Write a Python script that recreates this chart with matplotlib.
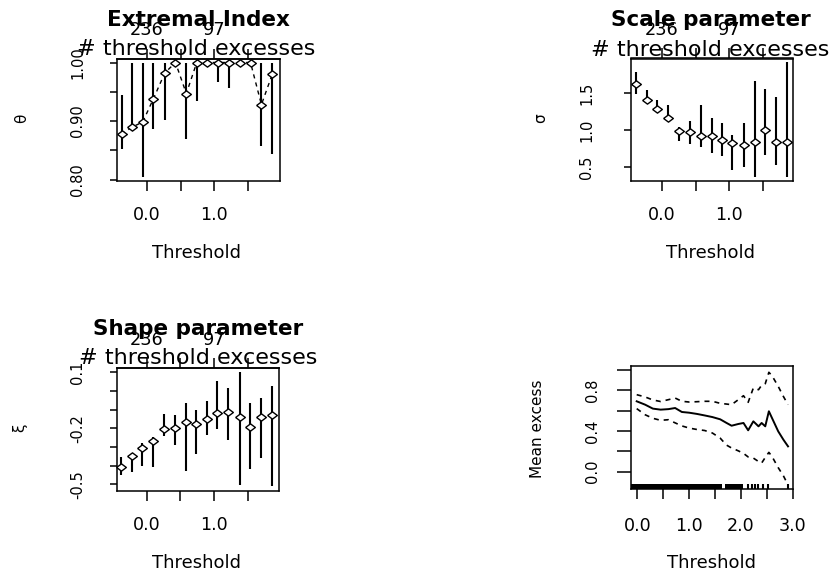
import matplotlib
matplotlib.use("Agg")
import matplotlib.pyplot as plt

# ---------------- data ----------------
thresholds = [-0.378, -0.217, -0.065, 0.095, 0.263, 0.422, 0.583, 0.738,
              0.895, 1.046, 1.212, 1.380, 1.535, 1.697, 1.858]

theta = [0.877, 0.890, 0.898, 0.938, 0.982, 1.000, 0.947, 1.000,
         1.000, 1.000, 1.000, 1.000, 1.000, 0.928, 0.980]
theta_lo = [0.853, 0.887, 0.805, 0.886, 0.902, 1.000, 0.870, 0.934,
            0.994, 0.967, 0.956, 1.000, 1.000, 0.858, 0.843]
theta_hi = [0.944, 1.000, 1.000, 1.000, 1.000, 1.000, 1.000, 1.000,
            1.000, 1.000, 1.000, 1.000, 1.000, 1.000, 1.000]

sigma = [1.620, 1.407, 1.289, 1.167, 0.990, 0.977, 0.923, 0.923,
         0.868, 0.819, 0.796, 0.841, 0.995, 0.837, 0.841]
sigma_lo = [1.484, 1.362, 1.226, 1.136, 0.855, 0.806, 0.773, 0.684,
            0.647, 0.457, 0.494, 0.366, 0.661, 0.525, 0.366]
sigma_hi = [1.791, 1.543, 1.407, 1.339, 1.045, 1.126, 1.339, 1.167,
            1.099, 0.932, 1.099, 1.669, 1.552, 1.444, 1.927]

xi = [-0.409, -0.348, -0.307, -0.266, -0.204, -0.200, -0.168, -0.177,
      -0.150, -0.120, -0.114, -0.138, -0.191, -0.138, -0.129]
xi_lo = [-0.450, -0.432, -0.402, -0.409, -0.241, -0.289, -0.427, -0.339,
         -0.236, -0.204, -0.263, -0.504, -0.420, -0.361, -0.509]
xi_hi = [-0.352, -0.330, -0.277, -0.245, -0.123, -0.129, -0.063, -0.102,
         -0.054, 0.055, 0.014, 0.100, -0.066, -0.039, 0.028]

me_u = [-0.012, 0.15, 0.30, 0.45, 0.60, 0.73, 0.86, 1.00, 1.15, 1.30, 1.45,
        1.60, 1.72, 1.82, 1.95, 2.05, 2.14, 2.24, 2.34, 2.40, 2.47, 2.54,
        2.60, 2.72, 2.82, 2.91]
me_mean = [0.692, 0.659, 0.620, 0.610, 0.615, 0.626, 0.587, 0.580, 0.568,
           0.553, 0.537, 0.515, 0.480, 0.452, 0.469, 0.479, 0.407, 0.495,
           0.446, 0.479, 0.446, 0.594, 0.528, 0.397, 0.315, 0.249]
me_upper = [0.757, 0.735, 0.705, 0.690, 0.708, 0.724, 0.692, 0.685, 0.688,
            0.692, 0.692, 0.672, 0.665, 0.659, 0.708, 0.747, 0.682, 0.823,
            0.806, 0.850, 0.865, 0.977, 0.944, 0.839, 0.740, 0.659]
me_lower = [0.620, 0.560, 0.525, 0.505, 0.511, 0.480, 0.450, 0.429, 0.415,
            0.405, 0.380, 0.330, 0.262, 0.233, 0.205, 0.180, 0.145, 0.134,
            0.100, 0.085, 0.140, 0.190, 0.150, 0.040, -0.040, -0.130]

rug_dense_spans = [(-0.128, 1.630), (1.693, 2.046)]
rug_ticks = [2.143, 2.208, 2.272, 2.336, 2.432, 2.529, 2.915]

thr_ticks = [0.0, 0.5, 1.0, 1.5]
thr_labels = ["0.0", "", "1.0", ""]
top_labels = ["236", "", "97", ""]

theta_ticks = [0.80, 0.85, 0.90, 0.95, 1.00]
theta_labels = ["0.80", "", "0.90", "", "1.00"]
sigma_ticks = [0.5, 1.0, 1.5]
sigma_labels = ["0.5", "1.0", "1.5"]
xi_ticks = [-0.5, -0.4, -0.3, -0.2, -0.1, 0.0, 0.1]
xi_labels = ["-0.5", "", "", "-0.2", "", "", "0.1"]
me_xticks = [0.0, 0.5, 1.0, 1.5, 2.0, 2.5, 3.0]
me_xlabels = ["0.0", "", "1.0", "", "2.0", "", "3.0"]
me_yticks = [0.0, 0.2, 0.4, 0.6, 0.8, 1.0]
me_ylabels = ["0.0", "", "0.4", "", "0.8", ""]

# ---------------- figure ----------------
plt.rcParams['font.family'] = ['DejaVu Sans']
W, H = 836, 574
fig = plt.figure(figsize=(W / 100, H / 100), dpi=100)
fig.patch.set_facecolor("white")


def fx(x):
    return x / W


def fy(y):
    return 1 - y / H


def add_ax(x0, y0, x1, y1):
    return fig.add_axes([x0 / W, 1 - y1 / H, (x1 - x0) / W, (y1 - y0) / H])


diamond = [(-1, 0), (0, 0.75), (1, 0), (0, -0.75), (-1, 0)]


def style_axes(ax, xticks, xlabels, yticks, ylabels, ytick_len, ypad, xpad):
    for s in ax.spines.values():
        s.set_linewidth(1.1)
    ax.set_xticks(xticks, labels=xlabels)
    ax.set_yticks(yticks, labels=ylabels)
    ax.tick_params(axis='x', direction='out', length=7.5, width=1.1,
                   labelsize=12.6, pad=xpad)
    ax.tick_params(axis='y', direction='out', length=ytick_len, width=1.1,
                   labelsize=10.5, pad=ypad, labelrotation=90)
    for lbl in ax.get_yticklabels():
        lbl.set_va('center')


def top_axis(ax):
    sec = ax.secondary_xaxis('top')
    sec.set_xticks(thr_ticks, labels=top_labels)
    sec.tick_params(axis='x', direction='out', length=7.2, width=1.1,
                    labelsize=12.8, pad=7.0)
    sec.spines['top'].set_linewidth(1.1)
    return sec


def param_panel(ax, y, lo, hi, line=False):
    ax.vlines(thresholds, lo, hi, colors='black', linewidth=1.5, zorder=2)
    if line:
        ax.plot(thresholds, y, color='black', linewidth=1.0,
                linestyle=(0, (3, 3)), zorder=1)
    ax.plot(thresholds, y, linestyle='none', marker=diamond, markersize=7,
            markerfacecolor='white', markeredgecolor='black',
            markeredgewidth=1.0, zorder=3, clip_on=False)


# Panel 1: Extremal index
ax1 = add_ax(117, 59, 279.5, 180.5)
param_panel(ax1, theta, theta_lo, theta_hi, line=True)
ax1.set_xlim(-0.445, 1.965)
ax1.set_ylim(0.7983, 1.006)
style_axes(ax1, thr_ticks, thr_labels, theta_ticks, theta_labels, 5, 18, 10.5)
top_axis(ax1)

# Panel 2: Scale parameter
ax2 = add_ax(630.7, 58.5, 793.3, 181)
param_panel(ax2, sigma, sigma_lo, sigma_hi)
ax2.set_xlim(-0.459, 1.947)
ax2.set_ylim(0.308, 1.970)
style_axes(ax2, thr_ticks, thr_labels, sigma_ticks, sigma_labels, 5, 21.4, 10.5)
top_axis(ax2)

# Panel 3: Shape parameter
ax3 = add_ax(116.7, 368.3, 279.3, 491)
param_panel(ax3, xi, xi_lo, xi_hi)
ax3.set_xlim(-0.445, 1.968)
ax3.set_ylim(-0.536, 0.1214)
style_axes(ax3, thr_ticks, thr_labels, xi_ticks, xi_labels, 5, 18, 10.5)
top_axis(ax3)

# Panel 4: Mean excess
ax4 = add_ax(630.7, 366, 792.7, 489.3)
ax4.plot(me_u, me_mean, color='black', linewidth=1.4)
ax4.plot(me_u, me_upper, color='black', linewidth=1.2, linestyle=(0, (3, 3)))
ax4.plot(me_u, me_lower, color='black', linewidth=1.2, linestyle=(0, (3, 3)))
for a, b in rug_dense_spans:
    ax4.axvspan(a, b, ymin=0, ymax=0.045, color='black', linewidth=0)
ax4.vlines(rug_ticks, 0, 0.045, colors='black', linewidth=1.5,
           transform=ax4.get_xaxis_transform())
ax4.set_xlim(-0.128, 3.0)
ax4.set_ylim(-0.173, 1.039)
style_axes(ax4, me_xticks, me_xlabels, me_yticks, me_ylabels, 10, 12, 12.5)

# ---------------- text ----------------
title_kw = dict(fontsize=15.5, fontweight='bold', ha='center', va='baseline')
top_kw = dict(fontsize=16, ha='center', va='baseline')
thr_kw = dict(fontsize=13, ha='center', va='baseline')

fig.text(fx(198), fy(26), "Extremal Index", **title_kw)
fig.text(fx(711), fy(26), "Scale parameter", **title_kw)
fig.text(fx(198), fy(335), "Shape parameter", **title_kw)

fig.text(fx(196), fy(55), "# threshold excesses", **top_kw)
fig.text(fx(710), fy(56), "# threshold excesses", **top_kw)
fig.text(fx(198), fy(364.3), "# threshold excesses", **top_kw)

fig.text(fx(197), fy(258.3), "Threshold", **thr_kw)
fig.text(fx(711), fy(258.3), "Threshold", **thr_kw)
fig.text(fx(197), fy(568.3), "Threshold", **thr_kw)
fig.text(fx(711.7), fy(568.3), "Threshold", **thr_kw)

ylab_kw = dict(fontsize=11, rotation=90, ha='center', va='center')
fig.text(fx(22), fy(118.5), "θ", **ylab_kw)
fig.text(fx(540.5), fy(118), "σ", **ylab_kw)
fig.text(fx(19.5), fy(428), "ξ", **ylab_kw)
fig.text(fx(538), fy(428.3), "Mean excess", **ylab_kw)

fig.savefig("out.png", dpi=100, facecolor="white")
